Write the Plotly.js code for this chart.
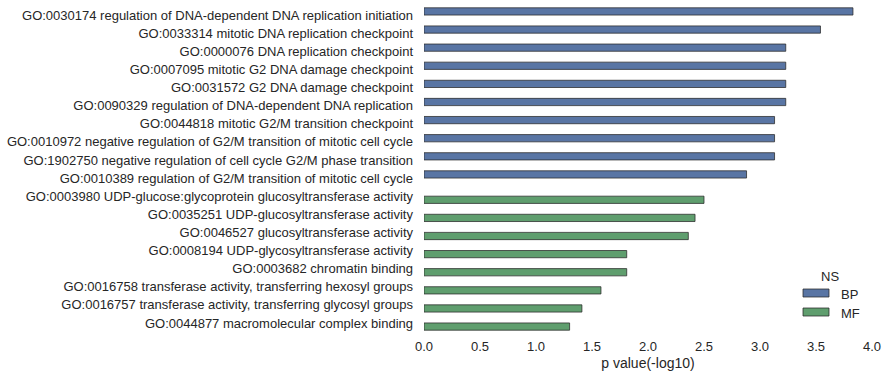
<!DOCTYPE html>
<html>
<head>
<meta charset="utf-8">
<script src="https://cdn.plot.ly/plotly-3.0.1.min.js"></script>
<style>html,body{margin:0;padding:0;background:#fff;}#chart{width:886px;height:379px;}</style>
</head>
<body>
<div id="chart"></div>
<script>
const terms = [
  "GO:0030174 regulation of DNA-dependent DNA replication initiation",
  "GO:0033314 mitotic DNA replication checkpoint",
  "GO:0000076 DNA replication checkpoint",
  "GO:0007095 mitotic G2 DNA damage checkpoint",
  "GO:0031572 G2 DNA damage checkpoint",
  "GO:0090329 regulation of DNA-dependent DNA replication",
  "GO:0044818 mitotic G2/M transition checkpoint",
  "GO:0010972 negative regulation of G2/M transition of mitotic cell cycle",
  "GO:1902750 negative regulation of cell cycle G2/M phase transition",
  "GO:0010389 regulation of G2/M transition of mitotic cell cycle",
  "GO:0003980 UDP-glucose:glycoprotein glucosyltransferase activity",
  "GO:0035251 UDP-glucosyltransferase activity",
  "GO:0046527 glucosyltransferase activity",
  "GO:0008194 UDP-glycosyltransferase activity",
  "GO:0003682 chromatin binding",
  "GO:0016758 transferase activity, transferring hexosyl groups",
  "GO:0016757 transferase activity, transferring glycosyl groups",
  "GO:0044877 macromolecular complex binding"
];
const namespace = ["BP","BP","BP","BP","BP","BP","BP","BP","BP","BP",
                   "MF","MF","MF","MF","MF","MF","MF","MF"];
const pvalues = [3.83, 3.54, 3.23, 3.23, 3.23, 3.23, 3.13, 3.13, 3.13, 2.88,
                 2.50, 2.42, 2.36, 1.81, 1.81, 1.58, 1.41, 1.30];
const groups = ["BP", "MF"];
const legendTitle = "NS";
const colors = {BP: "#5975a4", MF: "#5f9e6e"};
const xTicks = [0, 0.5, 1.0, 1.5, 2.0, 2.5, 3.0, 3.5, 4.0];

const edge = "rgba(40,40,40,0.75)";
const traces = groups.map(g => ({
  type: "bar",
  orientation: "h",
  name: g,
  y: terms,
  x: pvalues.map((v, i) => namespace[i] === g ? v : null),
  marker: {color: colors[g], line: {color: edge, width: 1}},
  hoverinfo: "x+y"
}));

// custom legend (patches + labels) in paper coordinates
const W = 886 - 424 - 14, H = 379 - 6 - 47;
const px = x => (x - 424) / W;
const py = y => (379 - 47 - y) / H;
const shapes = [];
const annotations = [{
  xref: "paper", yref: "paper", x: px(830), y: py(276), text: legendTitle,
  showarrow: false, xanchor: "center", yanchor: "middle",
  font: {size: 13, color: "#262626"}
}];
groups.forEach((g, k) => {
  const yc = 293 + k * 19;
  shapes.push({
    type: "rect", xref: "paper", yref: "paper",
    x0: px(803), x1: px(829), y0: py(yc - 4), y1: py(yc + 4),
    fillcolor: colors[g], line: {color: edge, width: 1}
  });
  annotations.push({
    xref: "paper", yref: "paper", x: px(839), y: py(yc + 1), text: g,
    showarrow: false, xanchor: "left", yanchor: "middle",
    font: {size: 13, color: "#262626"}
  });
});

const font = "Liberation Sans, Arial, sans-serif";
const layout = {
  width: 886, height: 379,
  margin: {l: 424, r: 14, t: 6, b: 47},
  paper_bgcolor: "#fff", plot_bgcolor: "#fff",
  barmode: "group", bargap: 0.2, bargroupgap: 0,
  font: {family: font, size: 13, color: "#262626"},
  xaxis: {
    range: [0, 4.0], tickvals: xTicks, ticktext: xTicks.map(v => v.toFixed(1)),
    showgrid: false, zeroline: false, showline: false, ticks: "",
    ticklabelstandoff: 5,
    tickfont: {size: 13, color: "#262626"},
    title: {text: "p value(-log10)", font: {size: 14, color: "#262626"}, standoff: 5}
  },
  yaxis: {
    type: "category", autorange: "reversed",
    showgrid: false, zeroline: false, showline: false, ticks: "",
    ticklabelstandoff: 10,
    tickfont: {size: 13, color: "#262626"}
  },
  showlegend: false,
  shapes: shapes,
  annotations: annotations
};
Plotly.newPlot("chart", traces, layout, {displayModeBar: false, staticPlot: true});
</script>
</body>
</html>
